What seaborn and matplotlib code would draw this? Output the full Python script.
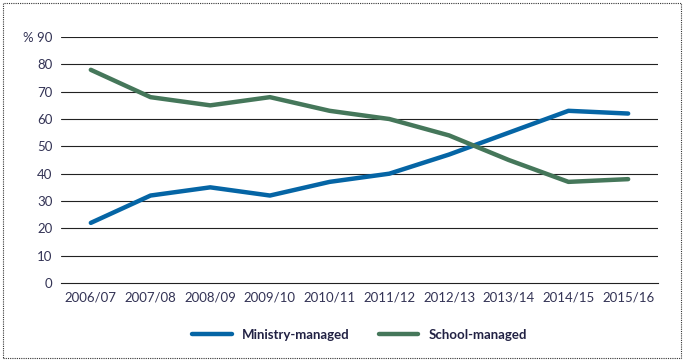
import matplotlib.pyplot as plt
import seaborn as sns
import pandas as pd
from matplotlib.patches import Rectangle

# Dados
years = ['2006/07', '2007/08', '2008/09', '2009/10', '2010/11',
         '2011/12', '2012/13', '2013/14', '2014/15', '2015/16']
ministry = [22, 32, 35, 32, 37, 40, 47, 55, 63, 62]
school = [78, 68, 65, 68, 63, 60, 54, 45, 37, 38]

data = pd.DataFrame({
    'Year': years * 2,
    'Percent': ministry + school,
    'Type': ['Ministry-managed'] * len(years) + ['School-managed'] * len(years),
})

sns.set_style("white")
plt.rcParams['font.family'] = ['Lato', 'DejaVu Sans']

fig = plt.figure(figsize=(6.85, 3.63), dpi=100)
ax = fig.add_axes([0.089, 0.2204, 0.8716, 0.6776])

palette = {'Ministry-managed': '#0565a5', 'School-managed': '#45775a'}
sns.lineplot(data=data, x='Year', y='Percent', hue='Type', palette=palette,
             linewidth=3.2, ax=ax, legend=False, sort=False)

ax.set_xlim(-0.5, len(years) - 0.5)
ax.set_ylim(0, 90)
ax.set_yticks(range(0, 100, 10))
ylabels = [str(v) for v in range(0, 100, 10)]
ylabels[-1] = '% 90'
ax.set_yticklabels(ylabels)
ax.set_xticks(range(len(years)))
ax.set_xticklabels(years)
ax.set_xticks([i - 0.5 for i in range(len(years) + 1)], minor=True)
ax.tick_params(axis='x', which='major', length=0, pad=6, labelsize=9.5, labelcolor='#333355')
ax.tick_params(axis='x', which='minor', length=4, width=0.8, color='#222222', direction='out')
ax.tick_params(axis='y', length=0, pad=6, labelsize=9.5, labelcolor='#333355')
ax.set_xlabel('')
ax.set_ylabel('')

for v in range(10, 100, 10):
    ax.axhline(v, color='#222222', lw=0.8, zorder=0)

for s in ['top', 'right', 'left']:
    ax.spines[s].set_visible(False)
ax.spines['bottom'].set_color('#222222')
ax.spines['bottom'].set_linewidth(0.8)

handles = [plt.Line2D([], [], color=palette[k], lw=3.2) for k in palette]
fig.legend(handles, list(palette.keys()), loc='center', bbox_to_anchor=(0.525, 0.077),
           ncol=2, frameon=False, handlelength=3.0, columnspacing=2.2,
           prop={'size': 9.5, 'weight': 'bold'}, labelcolor='#222244')

fig.patches.append(Rectangle((3 / 685, 5 / 363), 678 / 685, 355 / 363,
                             transform=fig.transFigure, fill=False,
                             edgecolor='#333333', lw=0.8, ls=(0, (1, 1))))

fig.savefig('out.png', dpi=100)
